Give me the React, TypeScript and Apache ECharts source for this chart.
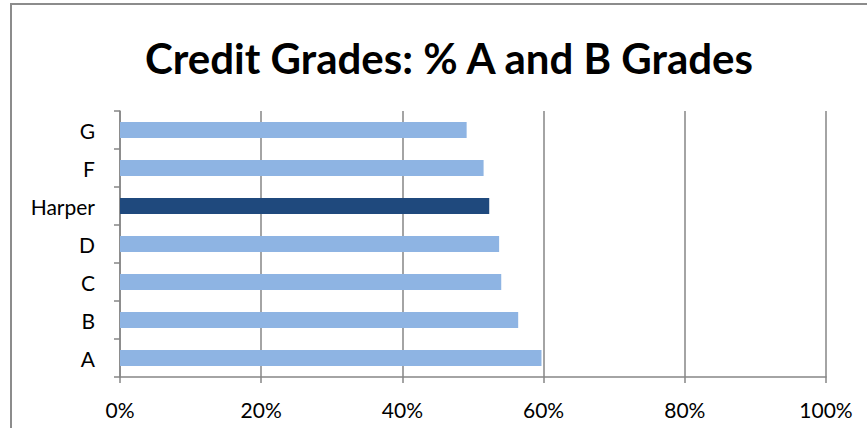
import React, { useEffect, useRef } from "react";
import * as echarts from "echarts";

const categories = ["A", "B", "C", "D", "Harper", "F", "G"];
const values = [59.7, 56.4, 54.0, 53.7, 52.3, 51.5, 49.1];
const highlight = "Harper";
const xTicks = [0, 20, 40, 60, 80, 100];

export default function App() {
  const ref = useRef<HTMLDivElement>(null);
  useEffect(() => {
    document.body.style.margin = "0";
    const chart = echarts.init(ref.current!, null, { renderer: "svg" });
    chart.setOption({
      animation: false,
      backgroundColor: "#ffffff",
      title: {
        text: "Credit Grades: % A and B Grades",
        left: 444,
        top: 53,
        textAlign: "center",
        textVerticalAlign: "middle",
        textStyle: {
          fontFamily: "Lato",
          fontWeight: "bold",
          fontSize: 42,
          color: "#000000",
        },
      },
      graphic: [
        {
          type: "rect",
          shape: { x: 11, y: 4, width: 880, height: 460 },
          style: { fill: "none", stroke: "#8c8c8c", lineWidth: 2 },
          silent: true,
        },
      ],
      grid: { left: 120, right: 41, top: 111, bottom: 51, containLabel: false },
      xAxis: {
        type: "value",
        min: xTicks[0],
        max: xTicks[xTicks.length - 1],
        interval: 20,
        axisLine: { show: true, lineStyle: { color: "#868686", width: 1.5 } },
        axisTick: { show: true, length: 6, lineStyle: { color: "#868686", width: 1.5 } },
        splitLine: { show: true, lineStyle: { color: "#868686", width: 1.5 } },
        axisLabel: {
          formatter: (v: number) => v + "%",
          margin: 22,
          fontFamily: "Lato",
          fontSize: 21,
          color: "#000000",
        },
      },
      yAxis: {
        type: "category",
        data: categories,
        axisLine: { show: true, lineStyle: { color: "#868686", width: 1.5 } },
        axisTick: { show: true, length: 6, lineStyle: { color: "#868686", width: 1.5 } },
        axisLabel: {
          margin: 25,
          fontFamily: "Lato",
          fontSize: 21,
          color: "#000000",
        },
      },
      series: [
        {
          type: "bar",
          barWidth: 16,
          data: categories.map((c, i) => ({
            value: values[i],
            itemStyle: { color: c === highlight ? "#1F497D" : "#8EB4E3" },
          })),
        },
      ],
    });
    return () => chart.dispose();
  }, []);
  return <div ref={ref} style={{ width: 867, height: 428 }} />;
}
